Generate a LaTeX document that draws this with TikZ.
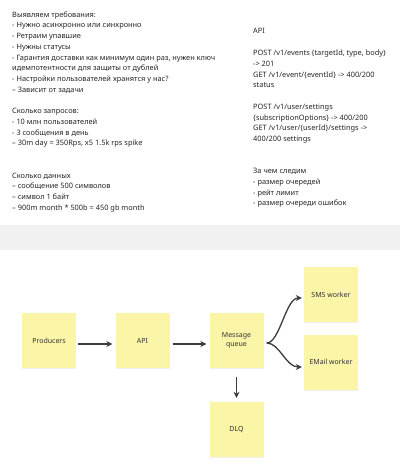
\documentclass[tikz,border=0pt]{standalone}
\usepackage{fontspec}
\setmainfont{Noto Sans}
\usetikzlibrary{shadows,arrows.meta}
\definecolor{sticky}{HTML}{FBF5A8}
\definecolor{band}{HTML}{F1F1F1}
\definecolor{ink}{HTML}{3C3C3C}

\begin{document}
\begin{tikzpicture}[x=1pt,y=-1pt,
    note/.style={fill=sticky, minimum width=54pt, minimum height=55pt, inner sep=0pt,
        align=center, text=black!80, font=\fontsize{7}{9}\selectfont,
        drop shadow={opacity=0.12, shadow xshift=0.4pt, shadow yshift=-1.2pt}},
    flow/.style={-{Stealth[length=6pt,width=6pt]}, line width=1.3pt, ink},
    memo/.style={anchor=north west, inner sep=0pt, align=left, text=black!85,
        font=\fontsize{7.4}{10.75}\selectfont}]
    \useasboundingbox (0,0) rectangle (400,476);
    \fill[white] (0,0) rectangle (400,476);
    \fill[band] (0,225) rectangle (400,250);
    % notes above the band
    \node[memo] (reqs) at (12,11.2) {Выявляем требования:\\
        - Нужно асинхронно или синхронно\\
        - Ретраим упавшие\\
        - Нужны статусы\\
        - Гарантия доставки как минимум один раз, нужен ключ\\
        идемпотентности для защиты от дублей\\
        - Настройки пользователей хранятся у нас?\\
        -- Зависит от задачи};
    \node[memo] (rps) at (12,108) {Сколько запросов:\\
        - 10 млн пользователей\\
        - 3 сообщения в день\\
        -- 30m day = 350Rps, x5 1.5k rps spike};
    \node[memo] (volume) at (12,172.5) {Сколько данных\\
        -- сообщение 500 символов\\
        -- символ 1 байт\\
        -- 900m month * 500b = 450 gb month};
    \node[memo] (apititle) at (253,28.2) {API};
    \node[memo] (endpoints) at (253,49.7) {POST /v1/events \{targetId, type, body\}\\
        -> 201\\
        GET /v1/event/\{eventId\} -> 400/200\\
        status\\[10.75pt]
        POST /v1/user/settings\\
        \{subscriptionOptions\} -> 400/200\\
        GET /v1/user/\{userId\}/settings ->\\
        400/200 settings};
    \node[memo] (metrics) at (253,168) {За чем следим\\
        - размер очередей\\
        - рейт лимит\\
        - размер очереди ошибок};
    % stickies
    \node[note] (prod) at (49,340.5) {Producers};
    \node[note] (api) at (142.5,340.5) {API};
    \node[note] (mq) at (236.5,340.5) {Message\\queue};
    \node[note] (sms) at (331,294.5) {SMS worker};
    \node[note] (email) at (331,362) {EMail worker};
    \node[note] (dlq) at (236.5,429.5) {DLQ};
    % arrows
    \draw[flow, shorten <=2pt, shorten >=3pt] ([yshift=-3.5pt]prod.east) -- ([yshift=-3.5pt]api.west);
    \draw[flow, shorten <=3pt, shorten >=3pt] ([yshift=-3.5pt]api.east) -- ([yshift=-3.5pt]mq.west);
    \draw[flow, shorten <=9pt, shorten >=4pt] (mq.south) -- (dlq.north);
    \draw[flow, shorten <=3pt, shorten >=2pt] ([yshift=-2.5pt]mq.east)
        .. controls +(16,0) and +(-18,0) .. ([yshift=-3.5pt]sms.west);
    \draw[flow, shorten <=3pt, shorten >=2pt] ([yshift=-2.5pt]mq.east)
        .. controls +(16,0) and +(-18,0) .. ([yshift=-5pt]email.west);
\end{tikzpicture}
\end{document}
